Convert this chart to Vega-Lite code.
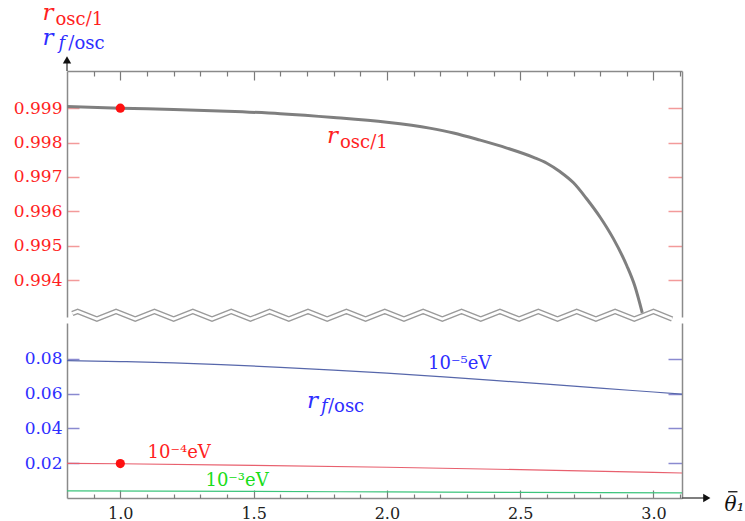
{
  "$schema": "https://vega.github.io/schema/vega-lite/v6.json",
  "padding": {"left": 13, "top": 1, "right": 0, "bottom": 0},
  "autosize": {"type": "pad"},
  "background": "white",
  "spacing": 6,
  "bounds": "flush",
  "resolve": {"scale": {"x": "independent", "y": "independent"}},
  "config": {"view": {"stroke": null}, "font": "DejaVu Serif", "axis": {"labelFont": "DejaVu Serif", "grid": false, "title": null}},
  "datasets": {
    "osc": [
      {"theta": 0.8, "r": 0.99905}, {"theta": 1.0, "r": 0.999}, {"theta": 1.2, "r": 0.99896},
      {"theta": 1.4, "r": 0.99891}, {"theta": 1.6, "r": 0.99884}, {"theta": 1.8, "r": 0.99873},
      {"theta": 2.0, "r": 0.99859}, {"theta": 2.16, "r": 0.99842}, {"theta": 2.25, "r": 0.99828},
      {"theta": 2.35, "r": 0.99807}, {"theta": 2.45, "r": 0.99784}, {"theta": 2.55, "r": 0.99757},
      {"theta": 2.6, "r": 0.9974}, {"theta": 2.65, "r": 0.99715}, {"theta": 2.7, "r": 0.99683},
      {"theta": 2.75, "r": 0.99636}, {"theta": 2.8, "r": 0.99583}, {"theta": 2.85, "r": 0.9952},
      {"theta": 2.9, "r": 0.99442}, {"theta": 2.93, "r": 0.99383}, {"theta": 2.958, "r": 0.99305}
    ],
    "fosc": [
      {"theta": 0.8, "ratio": 0.079, "mass": "1e-5"}, {"theta": 1.0, "ratio": 0.0785, "mass": "1e-5"},
      {"theta": 1.2, "ratio": 0.0778, "mass": "1e-5"}, {"theta": 1.4, "ratio": 0.0766, "mass": "1e-5"},
      {"theta": 1.6, "ratio": 0.0752, "mass": "1e-5"}, {"theta": 1.8, "ratio": 0.0736, "mass": "1e-5"},
      {"theta": 2.0, "ratio": 0.0718, "mass": "1e-5"}, {"theta": 2.2, "ratio": 0.0698, "mass": "1e-5"},
      {"theta": 2.4, "ratio": 0.0677, "mass": "1e-5"}, {"theta": 2.6, "ratio": 0.0655, "mass": "1e-5"},
      {"theta": 2.8, "ratio": 0.0632, "mass": "1e-5"}, {"theta": 3.0, "ratio": 0.061, "mass": "1e-5"},
      {"theta": 3.107, "ratio": 0.0598, "mass": "1e-5"},
      {"theta": 0.8, "ratio": 0.0199, "mass": "1e-4"}, {"theta": 1.0, "ratio": 0.0197, "mass": "1e-4"},
      {"theta": 1.5, "ratio": 0.0188, "mass": "1e-4"}, {"theta": 2.0, "ratio": 0.0177, "mass": "1e-4"},
      {"theta": 2.5, "ratio": 0.0163, "mass": "1e-4"}, {"theta": 3.0, "ratio": 0.0148, "mass": "1e-4"},
      {"theta": 3.107, "ratio": 0.0144, "mass": "1e-4"},
      {"theta": 0.8, "ratio": 0.0041, "mass": "1e-3"}, {"theta": 1.5, "ratio": 0.0038, "mass": "1e-3"},
      {"theta": 2.0, "ratio": 0.0035, "mass": "1e-3"}, {"theta": 2.5, "ratio": 0.0032, "mass": "1e-3"},
      {"theta": 3.107, "ratio": 0.0029, "mass": "1e-3"}
    ],
    "points": [{"theta": 1.0, "r": 0.999, "ratio": 0.0198}],
    "wiggle": [
      {"theta": 0.82, "r": 0.99303}, {"theta": 0.84, "r": 0.99309}, {"theta": 0.912, "r": 0.99287},
      {"theta": 0.984, "r": 0.99309}, {"theta": 1.056, "r": 0.99287}, {"theta": 1.128, "r": 0.99309},
      {"theta": 1.2, "r": 0.99287}, {"theta": 1.272, "r": 0.99309}, {"theta": 1.344, "r": 0.99287},
      {"theta": 1.416, "r": 0.99309}, {"theta": 1.488, "r": 0.99287}, {"theta": 1.56, "r": 0.99309},
      {"theta": 1.632, "r": 0.99287}, {"theta": 1.704, "r": 0.99309}, {"theta": 1.776, "r": 0.99287},
      {"theta": 1.848, "r": 0.99309}, {"theta": 1.92, "r": 0.99287}, {"theta": 1.992, "r": 0.99309},
      {"theta": 2.064, "r": 0.99287}, {"theta": 2.136, "r": 0.99309}, {"theta": 2.208, "r": 0.99287},
      {"theta": 2.28, "r": 0.99309}, {"theta": 2.352, "r": 0.99287}, {"theta": 2.424, "r": 0.99309},
      {"theta": 2.496, "r": 0.99287}, {"theta": 2.568, "r": 0.99309}, {"theta": 2.64, "r": 0.99287},
      {"theta": 2.712, "r": 0.99309}, {"theta": 2.784, "r": 0.99287}, {"theta": 2.856, "r": 0.99309},
      {"theta": 2.928, "r": 0.99287}, {"theta": 3.0, "r": 0.99309}, {"theta": 3.07, "r": 0.99287}
    ],
    "topText": [
      {"theta": 0.708, "r": 1.00157, "text": "r", "part": "main", "series": "osc"},
      {"theta": 0.757, "r": 1.00142, "text": "osc/1", "part": "sub", "series": "osc"},
      {"theta": 0.708, "r": 1.00084, "text": "r", "part": "main", "series": "fosc"},
      {"theta": 0.768, "r": 1.00072, "text": "f", "part": "subi", "series": "fosc"},
      {"theta": 0.805, "r": 1.00072, "text": "/osc", "part": "sub", "series": "fosc"},
      {"theta": 1.775, "r": 0.99799, "text": "r", "part": "main", "series": "osc"},
      {"theta": 1.824, "r": 0.99785, "text": "osc/1", "part": "sub", "series": "osc"}
    ],
    "bottomText": [
      {"theta": 1.7, "ratio": 0.0517, "text": "r", "part": "main", "series": "fosc"},
      {"theta": 1.753, "ratio": 0.0494, "text": "f", "part": "subi", "series": "fosc"},
      {"theta": 1.779, "ratio": 0.0494, "text": "/osc", "part": "sub", "series": "fosc"},
      {"theta": 2.273, "ratio": 0.0741, "text": "10⁻⁵eV", "part": "ev", "series": "e5"},
      {"theta": 1.221, "ratio": 0.0229, "text": "10⁻⁴eV", "part": "ev", "series": "e4"},
      {"theta": 1.438, "ratio": 0.0067, "text": "10⁻³eV", "part": "ev", "series": "e3"}
    ]
  },
  "vconcat": [
    {
      "width": 615,
      "height": 246,
      "resolve": {"axis": {"x": "independent", "y": "independent"}},
      "layer": [
        {
          "data": {"name": "osc"},
          "mark": {"type": "line", "color": "#7f7f7f", "strokeWidth": 3, "interpolate": "monotone", "clip": true},
          "encoding": {
            "x": {"field": "theta", "type": "quantitative", "scale": {"domain": [0.8, 3.107], "nice": false, "zero": false},
              "axis": {"orient": "top", "values": [1.0, 1.5, 2.0, 2.5, 3.0],
                "labels": false, "domainColor": "#8a8a8a", "domainWidth": 1.5, "tickColor": "#7a7a7a", "tickWidth": 1.2, "tickSize": -9}},
            "y": {"field": "r", "type": "quantitative", "scale": {"domain": [0.99293, 1.00008], "nice": false, "zero": false},
              "axis": {"orient": "left", "values": [0.994, 0.995, 0.996, 0.997, 0.998, 0.999], "format": ".3f",
                "labelColor": "#ff1f1f", "labelFontSize": 17, "labelPadding": 17, "domainColor": "#8a8a8a", "domainWidth": 1.5,
                "tickColor": "#f39a9a", "tickWidth": 1.5, "tickSize": -12}}
          }
        },
        {
          "data": {"name": "wiggle"},
          "mark": {"type": "line", "color": "#9a9a9a", "strokeWidth": 5.5, "clip": false},
          "encoding": {
            "x": {"field": "theta", "type": "quantitative", "scale": {"domain": [0.8, 3.107], "nice": false, "zero": false},
              "axis": {"orient": "top", "values": [0.9, 1.1, 1.2, 1.3, 1.4, 1.6, 1.7, 1.8, 1.9, 2.1, 2.2, 2.3, 2.4, 2.6, 2.7, 2.8, 2.9, 3.1],
                "labels": false, "domain": false, "tickColor": "#7a7a7a", "tickWidth": 1.2, "tickSize": -5}},
            "y": {"field": "r", "type": "quantitative", "scale": {"domain": [0.99293, 1.00008], "nice": false, "zero": false}, "axis": null}
          }
        },
        {
          "data": {"name": "wiggle"},
          "mark": {"type": "line", "color": "white", "strokeWidth": 2.8, "clip": false},
          "encoding": {
            "x": {"field": "theta", "type": "quantitative", "scale": {"domain": [0.8, 3.107], "nice": false, "zero": false}, "axis": null},
            "y": {"field": "r", "type": "quantitative", "scale": {"domain": [0.99293, 1.00008], "nice": false, "zero": false}, "axis": null}
          }
        },
        {
          "data": {"name": "points"},
          "mark": {"type": "point", "filled": true, "color": "#ff1010", "size": 85, "opacity": 1},
          "encoding": {
            "x": {"field": "theta", "type": "quantitative", "scale": {"domain": [0.8, 3.107], "nice": false, "zero": false}, "axis": null},
            "y": {"field": "r", "type": "quantitative", "scale": {"domain": [0.99293, 1.00008], "nice": false, "zero": false},
              "axis": {"orient": "right", "values": [0.994, 0.995, 0.996, 0.997, 0.998, 0.999], "labels": false,
                "domainColor": "#8a8a8a", "domainWidth": 1.5, "tickColor": "#f39a9a", "tickWidth": 1.5, "tickSize": -14}}
          }
        },
        {
          "data": {"name": "topText"},
          "transform": [{"filter": "datum.part === 'main'"}],
          "mark": {"type": "text", "fontStyle": "italic", "fontSize": 23, "align": "left", "baseline": "alphabetic", "clip": false},
          "encoding": {
            "x": {"field": "theta", "type": "quantitative", "scale": {"domain": [0.8, 3.107], "nice": false, "zero": false}, "axis": null},
            "y": {"field": "r", "type": "quantitative", "scale": {"domain": [0.99293, 1.00008], "nice": false, "zero": false}, "axis": null},
            "text": {"field": "text"},
            "color": {"field": "series", "type": "nominal", "legend": null, "scale": {"domain": ["osc", "fosc", "e5", "e4", "e3"], "range": ["#ff1f1f", "#2e2eff", "#2e2eff", "#ff1f1f", "#19dd19"]}}
          }
        },
        {
          "data": {"name": "topText"},
          "transform": [{"filter": "datum.part === 'sub'"}],
          "mark": {"type": "text", "fontSize": 18, "align": "left", "baseline": "alphabetic", "clip": false},
          "encoding": {
            "x": {"field": "theta", "type": "quantitative", "scale": {"domain": [0.8, 3.107], "nice": false, "zero": false}, "axis": null},
            "y": {"field": "r", "type": "quantitative", "scale": {"domain": [0.99293, 1.00008], "nice": false, "zero": false}, "axis": null},
            "text": {"field": "text"},
            "color": {"field": "series", "type": "nominal", "legend": null, "scale": {"domain": ["osc", "fosc", "e5", "e4", "e3"], "range": ["#ff1f1f", "#2e2eff", "#2e2eff", "#ff1f1f", "#19dd19"]}}
          }
        },
        {
          "data": {"name": "topText"},
          "transform": [{"filter": "datum.part === 'subi'"}],
          "mark": {"type": "text", "fontSize": 18, "fontStyle": "italic", "align": "left", "baseline": "alphabetic", "clip": false},
          "encoding": {
            "x": {"field": "theta", "type": "quantitative", "scale": {"domain": [0.8, 3.107], "nice": false, "zero": false}, "axis": null},
            "y": {"field": "r", "type": "quantitative", "scale": {"domain": [0.99293, 1.00008], "nice": false, "zero": false}, "axis": null},
            "text": {"field": "text"},
            "color": {"field": "series", "type": "nominal", "legend": null, "scale": {"domain": ["osc", "fosc", "e5", "e4", "e3"], "range": ["#ff1f1f", "#2e2eff", "#2e2eff", "#ff1f1f", "#19dd19"]}}
          }
        },
        {
          "data": {"values": [{}]},
          "mark": {"type": "rule", "color": "#555555", "strokeWidth": 1.5, "clip": false},
          "encoding": {
            "x": {"datum": 0.8, "type": "quantitative", "scale": {"domain": [0.8, 3.107], "nice": false, "zero": false}, "axis": null},
            "y": {"datum": 1.00008, "type": "quantitative", "scale": {"domain": [0.99293, 1.00008], "nice": false, "zero": false}, "axis": null},
            "y2": {"datum": 1.0004}
          }
        },
        {
          "data": {"values": [{}]},
          "mark": {"type": "point", "shape": "triangle-up", "filled": true, "color": "#111111", "size": 70, "opacity": 1, "clip": false},
          "encoding": {
            "x": {"datum": 0.8, "type": "quantitative", "scale": {"domain": [0.8, 3.107], "nice": false, "zero": false}, "axis": null},
            "y": {"datum": 1.0004, "type": "quantitative", "scale": {"domain": [0.99293, 1.00008], "nice": false, "zero": false}, "axis": null}
          }
        }
      ]
    },
    {
      "width": 615,
      "height": 175,
      "resolve": {"axis": {"x": "independent", "y": "independent"}},
      "layer": [
        {
          "data": {"name": "fosc"},
          "mark": {"type": "line", "strokeWidth": 1.2, "interpolate": "monotone"},
          "encoding": {
            "x": {"field": "theta", "type": "quantitative", "scale": {"domain": [0.8, 3.107], "nice": false, "zero": false},
              "axis": {"orient": "bottom", "values": [1.0, 1.5, 2.0, 2.5, 3.0], "format": ".1f",
                "labelFontSize": 16, "labelColor": "#222222", "labelPadding": 15, "labelOverlap": false, "labelFlush": false,
                "domainColor": "#8a8a8a", "domainWidth": 1.5, "tickColor": "#7a7a7a", "tickWidth": 1.2, "tickSize": -8}},
            "y": {"field": "ratio", "type": "quantitative", "scale": {"domain": [0, 0.1007], "nice": false, "zero": false},
              "axis": {"orient": "left", "values": [0.02, 0.04, 0.06, 0.08], "format": ".2f",
                "labelColor": "#2e2eff", "labelFontSize": 17, "labelPadding": 17, "domainColor": "#8a8a8a", "domainWidth": 1.5,
                "tickColor": "#8a8ad0", "tickWidth": 1.5, "tickSize": -12}},
            "stroke": {"field": "mass", "type": "nominal", "legend": null, "scale": {"domain": ["1e-5", "1e-4", "1e-3"], "range": ["#5767ab", "#e8606e", "#3cc47c"]}}
          }
        },
        {
          "data": {"name": "points"},
          "mark": {"type": "point", "filled": true, "color": "#ff1010", "size": 85, "opacity": 1},
          "encoding": {
            "x": {"field": "theta", "type": "quantitative", "scale": {"domain": [0.8, 3.107], "nice": false, "zero": false},
              "axis": {"orient": "bottom", "values": [0.9, 1.1, 1.2, 1.3, 1.4, 1.6, 1.7, 1.8, 1.9, 2.1, 2.2, 2.3, 2.4, 2.6, 2.7, 2.8, 2.9, 3.1],
                "labels": false, "domain": false, "tickColor": "#7a7a7a", "tickWidth": 1.2, "tickSize": -4}},
            "y": {"field": "ratio", "type": "quantitative", "scale": {"domain": [0, 0.1007], "nice": false, "zero": false},
              "axis": {"orient": "right", "values": [0.02, 0.04, 0.06, 0.08], "labels": false,
                "domainColor": "#8a8a8a", "domainWidth": 1.5, "tickColor": "#8a8ad0", "tickWidth": 1.5, "tickSize": -14}}
          }
        },
        {
          "data": {"name": "bottomText"},
          "transform": [{"filter": "datum.part === 'main'"}],
          "mark": {"type": "text", "fontStyle": "italic", "fontSize": 23, "align": "left", "baseline": "alphabetic"},
          "encoding": {
            "x": {"field": "theta", "type": "quantitative", "scale": {"domain": [0.8, 3.107], "nice": false, "zero": false}, "axis": null},
            "y": {"field": "ratio", "type": "quantitative", "scale": {"domain": [0, 0.1007], "nice": false, "zero": false}, "axis": null},
            "text": {"field": "text"},
            "color": {"field": "series", "type": "nominal", "legend": null, "scale": {"domain": ["osc", "fosc", "e5", "e4", "e3"], "range": ["#ff1f1f", "#2e2eff", "#2e2eff", "#ff1f1f", "#19dd19"]}}
          }
        },
        {
          "data": {"name": "bottomText"},
          "transform": [{"filter": "datum.part === 'sub'"}],
          "mark": {"type": "text", "fontSize": 18, "align": "left", "baseline": "alphabetic"},
          "encoding": {
            "x": {"field": "theta", "type": "quantitative", "scale": {"domain": [0.8, 3.107], "nice": false, "zero": false}, "axis": null},
            "y": {"field": "ratio", "type": "quantitative", "scale": {"domain": [0, 0.1007], "nice": false, "zero": false}, "axis": null},
            "text": {"field": "text"},
            "color": {"field": "series", "type": "nominal", "legend": null, "scale": {"domain": ["osc", "fosc", "e5", "e4", "e3"], "range": ["#ff1f1f", "#2e2eff", "#2e2eff", "#ff1f1f", "#19dd19"]}}
          }
        },
        {
          "data": {"name": "bottomText"},
          "transform": [{"filter": "datum.part === 'subi'"}],
          "mark": {"type": "text", "fontSize": 18, "fontStyle": "italic", "align": "left", "baseline": "alphabetic"},
          "encoding": {
            "x": {"field": "theta", "type": "quantitative", "scale": {"domain": [0.8, 3.107], "nice": false, "zero": false}, "axis": null},
            "y": {"field": "ratio", "type": "quantitative", "scale": {"domain": [0, 0.1007], "nice": false, "zero": false}, "axis": null},
            "text": {"field": "text"},
            "color": {"field": "series", "type": "nominal", "legend": null, "scale": {"domain": ["osc", "fosc", "e5", "e4", "e3"], "range": ["#ff1f1f", "#2e2eff", "#2e2eff", "#ff1f1f", "#19dd19"]}}
          }
        },
        {
          "data": {"name": "bottomText"},
          "transform": [{"filter": "datum.part === 'ev'"}],
          "mark": {"type": "text", "fontSize": 18, "align": "center", "baseline": "alphabetic"},
          "encoding": {
            "x": {"field": "theta", "type": "quantitative", "scale": {"domain": [0.8, 3.107], "nice": false, "zero": false}, "axis": null},
            "y": {"field": "ratio", "type": "quantitative", "scale": {"domain": [0, 0.1007], "nice": false, "zero": false}, "axis": null},
            "text": {"field": "text"},
            "color": {"field": "series", "type": "nominal", "legend": null, "scale": {"domain": ["osc", "fosc", "e5", "e4", "e3"], "range": ["#ff1f1f", "#2e2eff", "#2e2eff", "#ff1f1f", "#19dd19"]}}
          }
        },
        {
          "data": {"values": [{}]},
          "mark": {"type": "rule", "color": "#555555", "strokeWidth": 1.5, "clip": false},
          "encoding": {
            "x": {"datum": 3.107, "type": "quantitative", "scale": {"domain": [0.8, 3.107], "nice": false, "zero": false}, "axis": null},
            "x2": {"datum": 3.2},
            "y": {"datum": 0, "type": "quantitative", "scale": {"domain": [0, 0.1007], "nice": false, "zero": false}, "axis": null}
          }
        },
        {
          "data": {"values": [{}]},
          "mark": {"type": "point", "shape": "triangle-right", "filled": true, "color": "#111111", "size": 70, "opacity": 1, "clip": false},
          "encoding": {
            "x": {"datum": 3.2, "type": "quantitative", "scale": {"domain": [0.8, 3.107], "nice": false, "zero": false}, "axis": null},
            "y": {"datum": 0, "type": "quantitative", "scale": {"domain": [0, 0.1007], "nice": false, "zero": false}, "axis": null}
          }
        },
        {
          "data": {"values": [{}]},
          "mark": {"type": "text", "text": "θ₁", "fontSize": 20, "fontStyle": "italic", "align": "left", "baseline": "alphabetic", "color": "#111111", "clip": false},
          "encoding": {
            "x": {"datum": 3.266, "type": "quantitative", "scale": {"domain": [0.8, 3.107], "nice": false, "zero": false}, "axis": null},
            "y": {"datum": -0.0072, "type": "quantitative", "scale": {"domain": [0, 0.1007], "nice": false, "zero": false}, "axis": null}
          }
        },
        {
          "data": {"values": [{}]},
          "mark": {"type": "rule", "color": "#111111", "strokeWidth": 1.3, "clip": false},
          "encoding": {
            "x": {"datum": 3.28, "type": "quantitative", "scale": {"domain": [0.8, 3.107], "nice": false, "zero": false}, "axis": null},
            "x2": {"datum": 3.315},
            "y": {"datum": 0.0036, "type": "quantitative", "scale": {"domain": [0, 0.1007], "nice": false, "zero": false}, "axis": null}
          }
        }
      ]
    }
  ]
}
